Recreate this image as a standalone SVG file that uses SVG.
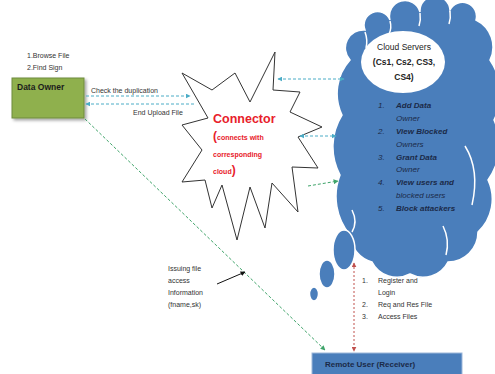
<svg xmlns="http://www.w3.org/2000/svg" width="495" height="374" viewBox="0 0 495 374">
<defs>
<marker id="ab" viewBox="0 0 8 8" refX="7" refY="4" markerWidth="5" markerHeight="5" orient="auto-start-reverse"><path d="M0,0 L8,4 L0,8 Z" fill="#4BACC6"/></marker>
<marker id="ag" viewBox="0 0 8 8" refX="7" refY="4" markerWidth="5" markerHeight="5" orient="auto-start-reverse"><path d="M0,0 L8,4 L0,8 Z" fill="#3FA46A"/></marker>
<marker id="ar" viewBox="0 0 8 8" refX="7" refY="4" markerWidth="5" markerHeight="5" orient="auto-start-reverse"><path d="M0,0 L8,4 L0,8 Z" fill="#C0504D"/></marker>
<marker id="ak" viewBox="0 0 8 8" refX="7" refY="4" markerWidth="5" markerHeight="5" orient="auto"><path d="M0,0 L8,4 L0,8 Z" fill="#111"/></marker>
<filter id="sh" x="-10%" y="-10%" width="130%" height="140%"><feDropShadow dx="2" dy="2" stdDeviation="1.5" flood-color="#000" flood-opacity="0.35"/></filter>
</defs>
<style>
text{font-family:"Liberation Sans",Arial,sans-serif;}
.s{font-size:7px;fill:#333;}
.blue{stroke:#4BACC6;stroke-width:1;stroke-dasharray:3,2;fill:none;}
.green{stroke:#3FA46A;stroke-width:1;stroke-dasharray:3,2;fill:none;}
.ci{font-size:8px;font-style:italic;fill:#1b2a48;}
.cb{font-weight:bold;}
.rt{fill:#E8202A;font-weight:bold;}
.wl{fill:none;stroke:#fff;stroke-width:1.5;}
</style>
<rect width="495" height="374" fill="#fff"/>

<g id="cloud">
<path d="M350,60 A18,18 0 0 1 365,30 A13,13 0 0 1 390,20 A15,15 0 0 1 420,12 A15,15 0 0 1 450,10 A14,14 0 0 1 476,20 A30,30 0 0 1 490,60 A60,60 0 0 1 494,120 A60,60 0 0 1 488,180 A45,45 0 0 1 478,232 A30,30 0 0 1 448,262 A28,28 0 0 1 410,274 A28,28 0 0 1 372,262 A30,30 0 0 1 350,235 A60,60 0 0 1 340,175 A60,60 0 0 1 342,115 A50,50 0 0 1 350,60 Z" fill="#4A7EBB" stroke="#fff" stroke-width="1.5"/>
<ellipse cx="344" cy="250" rx="11" ry="20" fill="#4A7EBB" stroke="#fff" stroke-width="1.5"/>
<ellipse cx="327" cy="274" rx="8" ry="14" fill="#4A7EBB" stroke="#fff" stroke-width="1.5"/>
<ellipse cx="314" cy="294" rx="4.5" ry="7" fill="#4A7EBB" stroke="#fff" stroke-width="1.5"/>
<path class="wl" d="M465,146 Q480,170 472,205"/>
<path class="wl" d="M443,226 Q450,240 446,255"/>
<path class="wl" d="M352,210 Q358,222 352,232"/>
<path class="wl" d="M365,32 Q368,40 366,48"/>
<path class="wl" d="M390,21 Q392,28 389,34"/>
<path class="wl" d="M420,13 Q421,20 419,26"/>
<path class="wl" d="M450,11 Q451,18 449,24"/>
<ellipse cx="403" cy="62" rx="42" ry="31" fill="#fff"/>
<text x="404" y="50" text-anchor="middle" style="font-size:8.5px;fill:#222">Cloud Servers</text>
<text x="404" y="65" text-anchor="middle" style="font-size:8.5px;fill:#222;font-weight:bold">(Cs1, Cs2, CS3,</text>
<text x="404" y="80" text-anchor="middle" style="font-size:8.5px;fill:#222;font-weight:bold">CS4)</text>
<text class="ci" x="378" y="108">1.</text><text class="ci cb" x="396" y="108">Add Data</text>
<text class="ci" x="396" y="121">Owner</text>
<text class="ci" x="378" y="134">2.</text><text class="ci cb" x="396" y="134">View Blocked</text>
<text class="ci" x="396" y="147">Owners</text>
<text class="ci" x="378" y="160">3.</text><text class="ci cb" x="396" y="160">Grant Data</text>
<text class="ci" x="396" y="172">Owner</text>
<text class="ci" x="378" y="185">4.</text><text class="ci cb" x="396" y="185">View users and</text>
<text class="ci" x="396" y="198">blocked users</text>
<text class="ci" x="378" y="211">5.</text><text class="ci cb" x="396" y="211">Block attackers</text>
</g>

<g id="connector">
<polygon points="275,52 273,90 300,92 290,112 322,127 298,137 318,168 292,167 298,212 272,183 265,228 250,187 237,240 222,185 212,208 205,180 182,182 202,150 182,125 208,118 182,73 212,90 235,73 250,102" fill="#fff" stroke="#333" stroke-width="1"/>
<text class="rt" x="213" y="123" style="font-size:12.5px">Connector</text>
<text class="rt" x="213" y="140" style="font-size:7px"><tspan style="font-size:12px">(</tspan>connects with</text>
<text class="rt" x="213" y="157" style="font-size:7px">corresponding</text>
<text class="rt" x="213" y="174" style="font-size:7px">cloud<tspan style="font-size:12px">)</tspan></text>
</g>

<g id="data-owner">
<rect x="12" y="78" width="72" height="40" fill="#8FB04E" stroke="#6E8B3D" stroke-width="1" filter="url(#sh)"/>
<text x="17" y="90" style="font-size:8.5px;font-weight:bold;fill:#1c1c1c">Data Owner</text>
<text class="s" x="27" y="58">1.Browse File</text>
<text class="s" x="27" y="70">2.Find Sign</text>
</g>

<g id="remote-user">
<rect x="312" y="353" width="150" height="24" fill="#4A7EBB" stroke="#9DB7DA" stroke-width="1"/>
<text x="325" y="367" style="font-size:8px;font-weight:bold;fill:#1b2a48">Remote User (Receiver)</text>
<text class="s" x="362" y="283">1.</text><text class="s" x="378" y="283">Register and</text>
<text class="s" x="378" y="295">Login</text>
<text class="s" x="362" y="307">2.</text><text class="s" x="378" y="307">Req and Res File</text>
<text class="s" x="362" y="319">3.</text><text class="s" x="378" y="319">Access Files</text>
</g>

<g id="labels">
<text class="s" x="91" y="93">Check the duplication</text>
<text class="s" x="133" y="115">End Upload File</text>
<text class="s" x="168" y="271">Issuing file</text>
<text class="s" x="168" y="283">access</text>
<text class="s" x="168" y="295">Information</text>
<text class="s" x="168" y="307">(fname,sk)</text>
</g>

<g id="connectors">
<line class="blue" x1="86" y1="96" x2="190" y2="96" marker-end="url(#ab)"/>
<line class="blue" x1="86" y1="104" x2="196" y2="104" marker-start="url(#ab)"/>
<line class="blue" x1="278" y1="79" x2="344" y2="79" marker-start="url(#ab)" marker-end="url(#ab)"/>
<line class="blue" x1="300" y1="136" x2="336" y2="136" marker-start="url(#ab)" marker-end="url(#ab)"/>
<line class="green" x1="308" y1="186" x2="338" y2="181" marker-end="url(#ag)"/>
<line class="green" x1="85" y1="119" x2="325" y2="350" marker-end="url(#ag)"/>
<line x1="354" y1="263" x2="354" y2="351" stroke="#C0504D" stroke-width="1" stroke-dasharray="2,2" marker-start="url(#ar)" marker-end="url(#ar)"/>
<line x1="217" y1="284" x2="245" y2="272" stroke="#111" stroke-width="1" marker-end="url(#ak)"/>
</g>
</svg>
